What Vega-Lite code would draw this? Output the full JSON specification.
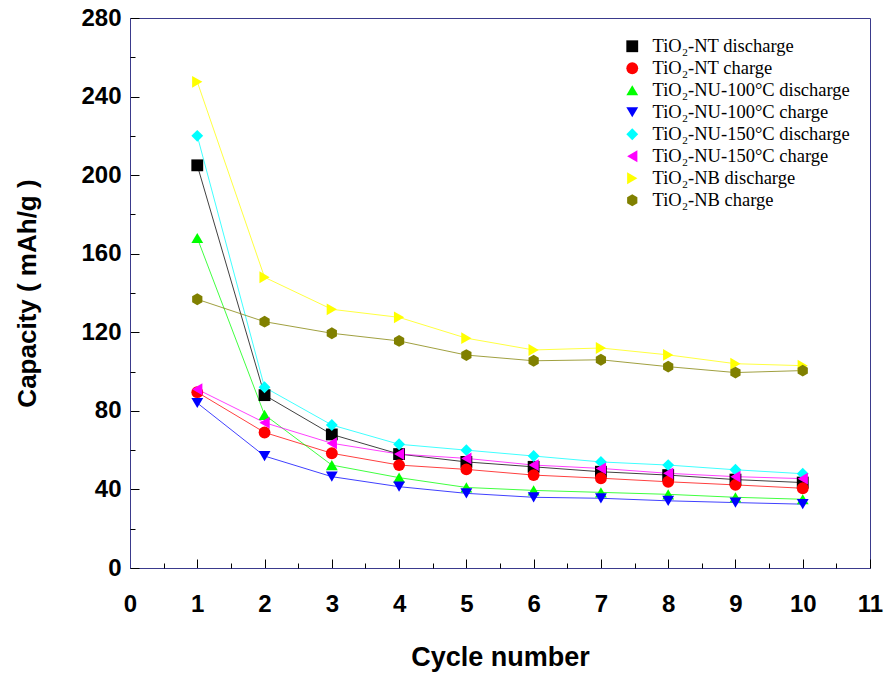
{
  "$schema": "https://vega.github.io/schema/vega-lite/v6.json",
  "width": 740,
  "height": 550,
  "autosize": "none",
  "padding": {"left": 130, "top": 18, "right": 15, "bottom": 106},
  "background": "white",
  "config": {
    "view": {"stroke": "#3a3a8c", "strokeWidth": 1},
    "axis": {"grid": false, "domainColor": "#3a3a8c", "tickColor": "#000000", "labelFont": "Liberation Sans", "labelFontWeight": "bold", "labelFontSize": 24, "labelColor": "#000000", "titleFont": "Liberation Sans", "titleFontWeight": "bold", "titleFontSize": 26, "titleColor": "#000000"},
    "legend": {"labelFont": "Liberation Serif", "labelFontSize": 18.5, "labelColor": "#000000", "labelLimit": 400}
  },
  "data": {"values": [
    {"cycle": 1, "series": "TiO₂-NT discharge", "capacity": 205},
    {"cycle": 2, "series": "TiO₂-NT discharge", "capacity": 88},
    {"cycle": 3, "series": "TiO₂-NT discharge", "capacity": 68},
    {"cycle": 4, "series": "TiO₂-NT discharge", "capacity": 58},
    {"cycle": 5, "series": "TiO₂-NT discharge", "capacity": 54},
    {"cycle": 6, "series": "TiO₂-NT discharge", "capacity": 51.5},
    {"cycle": 7, "series": "TiO₂-NT discharge", "capacity": 49},
    {"cycle": 8, "series": "TiO₂-NT discharge", "capacity": 47.3},
    {"cycle": 9, "series": "TiO₂-NT discharge", "capacity": 45},
    {"cycle": 10, "series": "TiO₂-NT discharge", "capacity": 43.5},
    {"cycle": 1, "series": "TiO₂-NT charge", "capacity": 89.5},
    {"cycle": 2, "series": "TiO₂-NT charge", "capacity": 69},
    {"cycle": 3, "series": "TiO₂-NT charge", "capacity": 58.4},
    {"cycle": 4, "series": "TiO₂-NT charge", "capacity": 52.4},
    {"cycle": 5, "series": "TiO₂-NT charge", "capacity": 50.2},
    {"cycle": 6, "series": "TiO₂-NT charge", "capacity": 47.3},
    {"cycle": 7, "series": "TiO₂-NT charge", "capacity": 45.7},
    {"cycle": 8, "series": "TiO₂-NT charge", "capacity": 43.9},
    {"cycle": 9, "series": "TiO₂-NT charge", "capacity": 42.3},
    {"cycle": 10, "series": "TiO₂-NT charge", "capacity": 40.6},
    {"cycle": 1, "series": "TiO₂-NU-100°C discharge", "capacity": 168},
    {"cycle": 2, "series": "TiO₂-NU-100°C discharge", "capacity": 78},
    {"cycle": 3, "series": "TiO₂-NU-100°C discharge", "capacity": 52.4},
    {"cycle": 4, "series": "TiO₂-NU-100°C discharge", "capacity": 46},
    {"cycle": 5, "series": "TiO₂-NU-100°C discharge", "capacity": 41},
    {"cycle": 6, "series": "TiO₂-NU-100°C discharge", "capacity": 39.5},
    {"cycle": 7, "series": "TiO₂-NU-100°C discharge", "capacity": 38.5},
    {"cycle": 8, "series": "TiO₂-NU-100°C discharge", "capacity": 37.5},
    {"cycle": 9, "series": "TiO₂-NU-100°C discharge", "capacity": 36},
    {"cycle": 10, "series": "TiO₂-NU-100°C discharge", "capacity": 35},
    {"cycle": 1, "series": "TiO₂-NU-100°C charge", "capacity": 84},
    {"cycle": 2, "series": "TiO₂-NU-100°C charge", "capacity": 57},
    {"cycle": 3, "series": "TiO₂-NU-100°C charge", "capacity": 46.5},
    {"cycle": 4, "series": "TiO₂-NU-100°C charge", "capacity": 41.4},
    {"cycle": 5, "series": "TiO₂-NU-100°C charge", "capacity": 38},
    {"cycle": 6, "series": "TiO₂-NU-100°C charge", "capacity": 36},
    {"cycle": 7, "series": "TiO₂-NU-100°C charge", "capacity": 35.5},
    {"cycle": 8, "series": "TiO₂-NU-100°C charge", "capacity": 34.2},
    {"cycle": 9, "series": "TiO₂-NU-100°C charge", "capacity": 33.3},
    {"cycle": 10, "series": "TiO₂-NU-100°C charge", "capacity": 32.5},
    {"cycle": 1, "series": "TiO₂-NU-150°C discharge", "capacity": 220},
    {"cycle": 2, "series": "TiO₂-NU-150°C discharge", "capacity": 92},
    {"cycle": 3, "series": "TiO₂-NU-150°C discharge", "capacity": 72.8},
    {"cycle": 4, "series": "TiO₂-NU-150°C discharge", "capacity": 63},
    {"cycle": 5, "series": "TiO₂-NU-150°C discharge", "capacity": 60},
    {"cycle": 6, "series": "TiO₂-NU-150°C discharge", "capacity": 57},
    {"cycle": 7, "series": "TiO₂-NU-150°C discharge", "capacity": 54},
    {"cycle": 8, "series": "TiO₂-NU-150°C discharge", "capacity": 52.4},
    {"cycle": 9, "series": "TiO₂-NU-150°C discharge", "capacity": 50},
    {"cycle": 10, "series": "TiO₂-NU-150°C discharge", "capacity": 48},
    {"cycle": 1, "series": "TiO₂-NU-150°C charge", "capacity": 91},
    {"cycle": 2, "series": "TiO₂-NU-150°C charge", "capacity": 74},
    {"cycle": 3, "series": "TiO₂-NU-150°C charge", "capacity": 63.5},
    {"cycle": 4, "series": "TiO₂-NU-150°C charge", "capacity": 58},
    {"cycle": 5, "series": "TiO₂-NU-150°C charge", "capacity": 55.8},
    {"cycle": 6, "series": "TiO₂-NU-150°C charge", "capacity": 52.4},
    {"cycle": 7, "series": "TiO₂-NU-150°C charge", "capacity": 50.7},
    {"cycle": 8, "series": "TiO₂-NU-150°C charge", "capacity": 48.2},
    {"cycle": 9, "series": "TiO₂-NU-150°C charge", "capacity": 46.5},
    {"cycle": 10, "series": "TiO₂-NU-150°C charge", "capacity": 45.5},
    {"cycle": 1, "series": "TiO₂-NB discharge", "capacity": 247.5},
    {"cycle": 2, "series": "TiO₂-NB discharge", "capacity": 148},
    {"cycle": 3, "series": "TiO₂-NB discharge", "capacity": 131.7},
    {"cycle": 4, "series": "TiO₂-NB discharge", "capacity": 127.6},
    {"cycle": 5, "series": "TiO₂-NB discharge", "capacity": 117},
    {"cycle": 6, "series": "TiO₂-NB discharge", "capacity": 111},
    {"cycle": 7, "series": "TiO₂-NB discharge", "capacity": 112},
    {"cycle": 8, "series": "TiO₂-NB discharge", "capacity": 108.5},
    {"cycle": 9, "series": "TiO₂-NB discharge", "capacity": 104},
    {"cycle": 10, "series": "TiO₂-NB discharge", "capacity": 103},
    {"cycle": 1, "series": "TiO₂-NB charge", "capacity": 136.8},
    {"cycle": 2, "series": "TiO₂-NB charge", "capacity": 125.4},
    {"cycle": 3, "series": "TiO₂-NB charge", "capacity": 119.5},
    {"cycle": 4, "series": "TiO₂-NB charge", "capacity": 115.6},
    {"cycle": 5, "series": "TiO₂-NB charge", "capacity": 108.4},
    {"cycle": 6, "series": "TiO₂-NB charge", "capacity": 105.5},
    {"cycle": 7, "series": "TiO₂-NB charge", "capacity": 106},
    {"cycle": 8, "series": "TiO₂-NB charge", "capacity": 102.5},
    {"cycle": 9, "series": "TiO₂-NB charge", "capacity": 99.5},
    {"cycle": 10, "series": "TiO₂-NB charge", "capacity": 100.5}
  ]},
  "resolve": {"axis": {"x": "independent", "y": "independent"}},
  "layer": [
    {
      "mark": {"type": "line", "strokeWidth": 1, "opacity": 0.75},
      "encoding": {
        "x": {"field": "cycle", "type": "quantitative", "scale": {"domain": [0, 11], "nice": false, "zero": false},
          "axis": {"orient": "bottom", "values": [0,1,2,3,4,5,6,7,8,9,10,11], "tickSize": -9, "labelPadding": 33, "title": "Cycle number", "titlePadding": 28, "titleFontSize": 27, "labelFlush": false}},
        "y": {"field": "capacity", "type": "quantitative", "scale": {"domain": [0, 280], "nice": false},
          "axis": {"orient": "left", "values": [0,40,80,120,160,200,240,280], "tickSize": -9, "labelPadding": 18, "title": "Capacity ( mAh/g )", "titlePadding": 40, "labelFlush": false}},
        "color": {"field": "series", "type": "nominal",
          "scale": {"domain": ["TiO₂-NT discharge","TiO₂-NT charge","TiO₂-NU-100°C discharge","TiO₂-NU-100°C charge","TiO₂-NU-150°C discharge","TiO₂-NU-150°C charge","TiO₂-NB discharge","TiO₂-NB charge"],
                    "range": ["#000000","#ff0000","#00ff00","#0000ff","#00ffff","#ff00ff","#ffff00","#808000"]},
          "legend": {"orient": "none", "legendX": 493, "legendY": 19, "title": null, "padding": 0, "rowPadding": 3, "labelOffset": 11, "symbolStrokeWidth": 0, "symbolOpacity": 1}},
        "detail": {"field": "series"}
      }
    },
    {
      "mark": {"type": "point", "filled": true, "opacity": 1},
      "encoding": {
        "x": {"field": "cycle", "type": "quantitative",
          "axis": {"orient": "bottom", "values": [0.5,1.5,2.5,3.5,4.5,5.5,6.5,7.5,8.5,9.5,10.5], "tickSize": -5, "labels": false, "domain": false, "title": null}},
        "y": {"field": "capacity", "type": "quantitative",
          "axis": {"orient": "left", "values": [20,60,100,140,180,220,260], "tickSize": -5, "labels": false, "domain": false, "title": null}},
        "color": {"field": "series", "type": "nominal",
          "legend": {"orient": "none", "legendX": 493, "legendY": 19, "title": null, "padding": 0, "rowPadding": 3, "labelOffset": 11, "symbolStrokeWidth": 0, "symbolOpacity": 1}},
        "shape": {"field": "series", "type": "nominal",
          "scale": {"domain": ["TiO₂-NT discharge","TiO₂-NT charge","TiO₂-NU-100°C discharge","TiO₂-NU-100°C charge","TiO₂-NU-150°C discharge","TiO₂-NU-150°C charge","TiO₂-NB discharge","TiO₂-NB charge"],
                    "range": ["square","circle","triangle-up","triangle-down","diamond","triangle-left","triangle-right","M0,-1L0.866,-0.5L0.866,0.5L0,1L-0.866,0.5L-0.866,-0.5Z"]}},
        "size": {"field": "series", "type": "nominal",
          "scale": {"domain": ["TiO₂-NT discharge","TiO₂-NT charge","TiO₂-NU-100°C discharge","TiO₂-NU-100°C charge","TiO₂-NU-150°C discharge","TiO₂-NU-150°C charge","TiO₂-NB discharge","TiO₂-NB charge"],
                    "range": [140, 140, 200, 200, 210, 200, 200, 230]}}
      }
    }
  ]
}
